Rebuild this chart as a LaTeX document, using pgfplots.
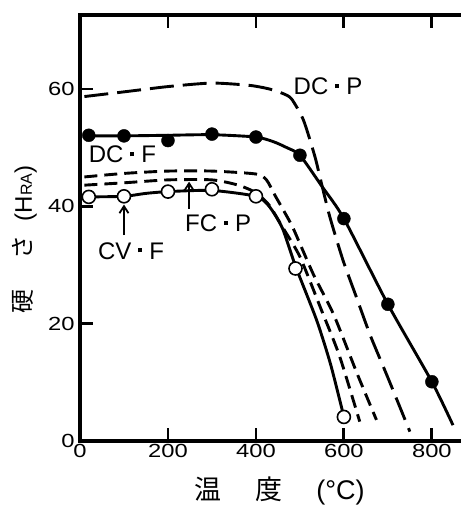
\documentclass[border=0pt]{standalone}
\usepackage{pgfplots}
\pgfplotsset{compat=1.18}
\usetikzlibrary{arrows.meta}
\usepackage{fontspec}
\setmainfont{Liberation Sans}
\newfontfamily\cjk{Noto Sans CJK JP}
\newfontfamily\tickfont[FakeStretch=1.25]{Liberation Sans}
\newcommand{\md}{\hspace{7pt}\rule[6.6pt]{4pt}{4pt}\hspace{7pt}}
\begin{document}
\begin{tikzpicture}
\begin{axis}[
  scale only axis, width=380pt, height=426pt,
  xmin=0, xmax=864, ymin=0, ymax=72.6,
  axis x line*=box, axis y line*=left,
  axis line style={line width=3.2pt, line cap=rect},
  xtick={0,200,400,600,800}, ytick={0,20,40,60},
  tick align=inside, major tick length=13pt,
  tick style={line width=2.8pt, black},
  /pgf/number format/assume math mode=true,
  tick label style={font=\tickfont\fontsize{19}{19}\selectfont},
  yticklabel style={xshift=-2pt},
  xlabel={{\cjk 温}\hspace{34pt}{\cjk 度}\hspace{34pt}(°C)},
  ylabel={{\cjk 硬}\hspace{30pt}{\cjk さ}\hspace{14pt}(H{\fontsize{16}{16}\selectfont RA})},
  xlabel style={at={(axis description cs:0.525,-0.117)},anchor=center,font=\fontsize{27}{27}\selectfont},
  ylabel style={at={(axis description cs:-0.145,0.473)},anchor=center,font=\fontsize{24}{24}\selectfont},
  clip=false,
]
\coordinate (O) at (axis cs:0,0);
% DC.P long dashed
\addplot[line width=2.9pt, dash pattern=on 24pt off 9pt, smooth, tension=0.4] coordinates {
 (10,58.7) (100,59.5) (200,60.4) (300,61.0) (386,60.6) (430,60.0) (462,59.2) (481,58.3)
 (508,54.7) (534,48.5) (549,43.9) (568,38.2) (598,30.8) (629,24.4) (660,18) (700,10.8) (750,1.6)};
% FC.P upper short dashed
\addplot[line width=2.9pt, dash pattern=on 13pt off 7pt, smooth, tension=0.4] coordinates {
 (10,45.0) (100,45.6) (200,46.0) (300,46.0) (400,45.5) (424,44.5) (443,41.9) (462,39.4)
 (485,36.2) (530,28.5) (577,21.5) (630,11.5) (674,3.6)};
% FC.P lower short dashed
\addplot[line width=2.9pt, dash pattern=on 13pt off 7pt, smooth, tension=0.4] coordinates {
 (10,43.6) (100,44.0) (200,44.5) (300,44.5) (360,43.6) (400,42.3) (430,40.2) (460,36.5)
 (500,31.4) (549,22.3) (590,14.5) (636,3.3)};
% DC.F solid line
\addplot[line width=2.9pt, smooth, tension=0.4] coordinates {
 (20,52.0) (100,52.0) (200,52.1) (300,52.2) (400,51.8) (440,51.0) (470,50.0) (500,48.7)
 (550,43.4) (600,37.9) (700,23.3) (800,10.1) (848,2.7)};
% CV.F solid line
\addplot[line width=2.9pt, smooth, tension=0.4] coordinates {
 (20,41.6) (100,41.7) (150,42.2) (200,42.5) (300,42.7) (400,41.7) (430,40.0) (460,36.3)
 (490,29.8) (538,20.6) (570,13.0) (600,4.1)};
% DC.F marks
\addplot[only marks, mark=*, mark size=6.5pt, mark options={fill=black, draw=black}] coordinates {
 (20,52.1) (100,52.0) (200,51.2) (300,52.3) (400,51.8) (500,48.7) (600,37.9) (700,23.3) (800,10.1)};
% CV.F marks
\addplot[only marks, mark=*, mark size=6.5pt, mark options={fill=white, draw=black, line width=1.6pt}] coordinates {
 (20,41.6) (100,41.7) (200,42.5) (300,42.9) (400,41.7) (490,29.4) (600,4.1)};
% labels
\node[anchor=base, font=\fontsize{24}{24}\selectfont] at (axis cs:564,59.0) {DC\md P};
\node[anchor=base, font=\fontsize{24}{24}\selectfont] at (axis cs:96.6,47.4) {DC\md F};
\node[anchor=base, font=\fontsize{24}{24}\selectfont] at (axis cs:314,35.7) {FC\md P};
\node[anchor=base, font=\fontsize{24}{24}\selectfont] at (axis cs:116,31.0) {CV\md F};
\draw[line width=1.8pt, -{Straight Barb[length=7pt,width=9pt]}] (axis cs:100,35.1) -- (axis cs:100,40.3);
\draw[line width=1.8pt, -{Straight Barb[length=7pt,width=9pt]}] (axis cs:248,39.6) -- (axis cs:248,44.2);
\end{axis}
\pgfresetboundingbox
\path (O) ++(-80pt,-69pt) rectangle ++(460pt,510pt);
\end{tikzpicture}
\end{document}
